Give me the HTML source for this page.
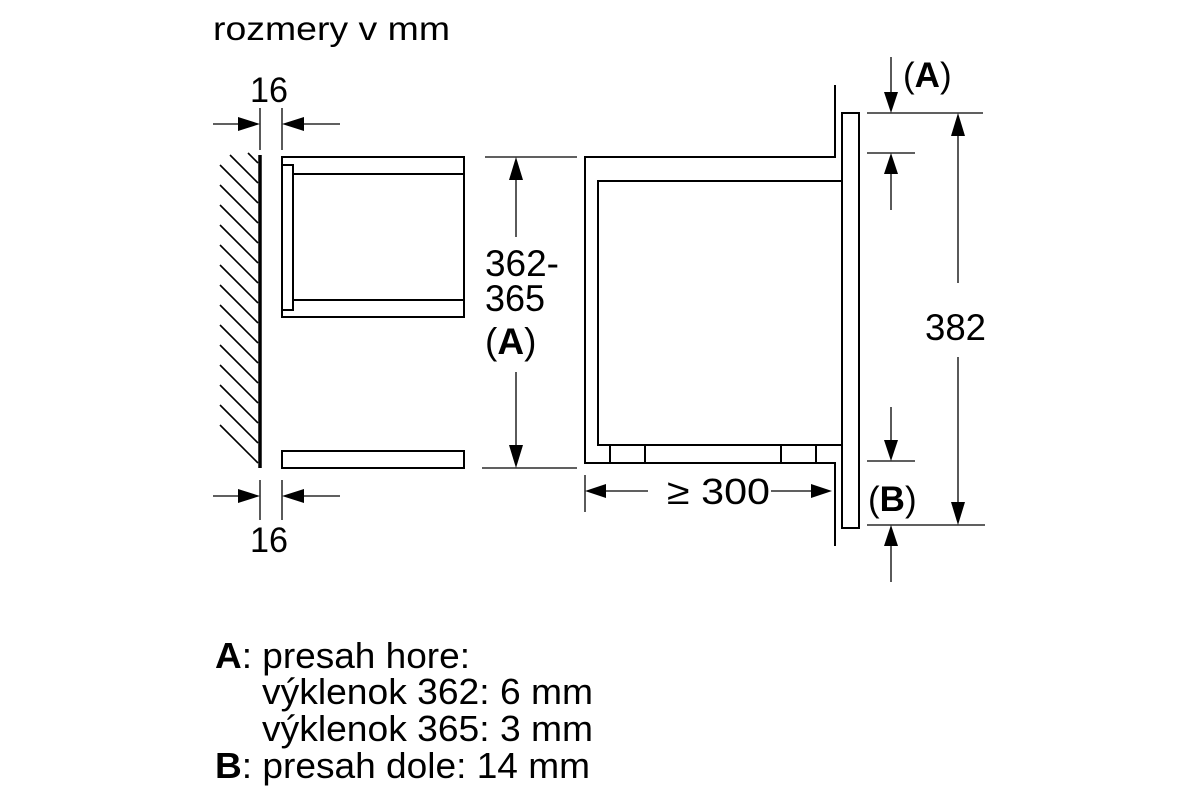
<!DOCTYPE html>
<html><head><meta charset="utf-8"><style>
html,body{margin:0;padding:0;background:#fff}
svg{display:block}
text{font-family:"Liberation Sans",sans-serif;fill:#000}
</style></head><body>
<svg width="1200" height="800" viewBox="0 0 1200 800" xmlns="http://www.w3.org/2000/svg">
<g stroke="#000" fill="none" stroke-width="1.3">
<line x1="260" y1="155" x2="260" y2="468" stroke-width="3.5"/>
<g stroke-width="1.6">
<line x1="248" y1="153" x2="258" y2="163"/>
<line x1="230" y1="155" x2="258" y2="183"/>
<line x1="220" y1="165" x2="258" y2="203"/>
<line x1="220" y1="185" x2="258" y2="223"/>
<line x1="220" y1="205" x2="258" y2="243"/>
<line x1="220" y1="225" x2="258" y2="263"/>
<line x1="220" y1="245" x2="258" y2="283"/>
<line x1="220" y1="265" x2="258" y2="303"/>
<line x1="220" y1="285" x2="258" y2="323"/>
<line x1="220" y1="305" x2="258" y2="343"/>
<line x1="220" y1="325" x2="258" y2="363"/>
<line x1="220" y1="345" x2="258" y2="383"/>
<line x1="220" y1="365" x2="258" y2="403"/>
<line x1="220" y1="385" x2="258" y2="423"/>
<line x1="220" y1="405" x2="258" y2="443"/>
<line x1="220" y1="425" x2="258" y2="463"/>
</g>
<line x1="260" y1="108" x2="260" y2="150"/><line x1="282" y1="108" x2="282" y2="150"/>
<line x1="213" y1="124" x2="245" y2="124"/><line x1="297" y1="124" x2="340" y2="124"/>
<line x1="260" y1="480" x2="260" y2="520"/><line x1="282" y1="480" x2="282" y2="520"/>
<line x1="213" y1="496" x2="245" y2="496"/><line x1="297" y1="496" x2="340" y2="496"/>
<g stroke-width="2">
<rect x="282" y="157" width="182" height="160"/>
<rect x="282" y="165" width="11" height="145"/>
<line x1="293" y1="174" x2="464" y2="174"/>
<line x1="293" y1="300" x2="464" y2="300"/>
<rect x="282" y="451" width="182" height="17"/>
</g>
<line x1="485" y1="157" x2="577" y2="157"/><line x1="482" y1="468" x2="577" y2="468"/>
<line x1="516" y1="175" x2="516" y2="237"/><line x1="516" y1="372" x2="516" y2="450"/>
<g stroke-width="2">
<polyline points="835,85 835,157 585,157 585,463 835,463 835,546"/>
<polyline points="841,181 598,181 598,445 841,445"/>
<rect x="610" y="445" width="35" height="18"/>
<rect x="781" y="445" width="35" height="18"/>
<rect x="842" y="113" width="17" height="415"/>
</g>
<line x1="867" y1="113" x2="983" y2="113"/>
<line x1="867" y1="153" x2="915" y2="153"/>
<line x1="867" y1="461" x2="915" y2="461"/>
<line x1="867" y1="525" x2="985" y2="525"/>
<line x1="891" y1="57" x2="891" y2="95"/>
<line x1="891" y1="170" x2="891" y2="210"/>
<line x1="891" y1="407" x2="891" y2="445"/>
<line x1="891" y1="542" x2="891" y2="582"/>
<line x1="958" y1="130" x2="958" y2="283"/>
<line x1="958" y1="357" x2="958" y2="508"/>
<line x1="585" y1="475" x2="585" y2="512"/>
<line x1="600" y1="491" x2="648" y2="491"/>
<line x1="771" y1="491" x2="818" y2="491"/>
</g>
<g fill="#000">
<polygon points="260,124 238,117 238,131"/>
<polygon points="282,124 304,117 304,131"/>
<polygon points="260,496 238,489 238,503"/>
<polygon points="282,496 304,489 304,503"/>
<polygon points="516,157 509,180 523,180"/>
<polygon points="516,468 509,445 523,445"/>
<polygon points="891,113 884,92 898,92"/>
<polygon points="891,153 884,174 898,174"/>
<polygon points="891,461 884,440 898,440"/>
<polygon points="891,525 884,546 898,546"/>
<polygon points="958,113 951,136 965,136"/>
<polygon points="958,525 951,502 965,502"/>
<polygon points="585,491 606,484 606,498"/>
<polygon points="832,491 811,484 811,498"/>
</g>
<text x="213" y="40" font-size="33" textLength="237" lengthAdjust="spacingAndGlyphs">rozmery v mm</text>
<text x="250" y="102" font-size="35" textLength="38" lengthAdjust="spacingAndGlyphs">16</text>
<text x="250" y="552" font-size="35" textLength="38" lengthAdjust="spacingAndGlyphs">16</text>
<text x="485" y="276" font-size="37" textLength="74" lengthAdjust="spacingAndGlyphs">362-</text>
<text x="485" y="311" font-size="37" textLength="60" lengthAdjust="spacingAndGlyphs">365</text>
<text x="485" y="354" font-size="37">(<tspan font-weight="bold">A</tspan>)</text>
<text x="925" y="340" font-size="37" textLength="61" lengthAdjust="spacingAndGlyphs">382</text>
<text x="903" y="87" font-size="35">(<tspan font-weight="bold">A</tspan>)</text>
<text x="868" y="511" font-size="35">(<tspan font-weight="bold">B</tspan>)</text>
<text x="667" y="504" font-size="36" textLength="103" lengthAdjust="spacingAndGlyphs">≥ 300</text>
<text x="215" y="668" font-size="36" textLength="255" lengthAdjust="spacingAndGlyphs"><tspan font-weight="bold">A</tspan>: presah hore:</text>
<text x="262" y="704" font-size="36" textLength="331" lengthAdjust="spacingAndGlyphs">výklenok 362: 6 mm</text>
<text x="262" y="741" font-size="36" textLength="331" lengthAdjust="spacingAndGlyphs">výklenok 365: 3 mm</text>
<text x="215" y="778" font-size="36" textLength="375" lengthAdjust="spacingAndGlyphs"><tspan font-weight="bold">B</tspan>: presah dole: 14 mm</text>
</svg>
</body></html>
